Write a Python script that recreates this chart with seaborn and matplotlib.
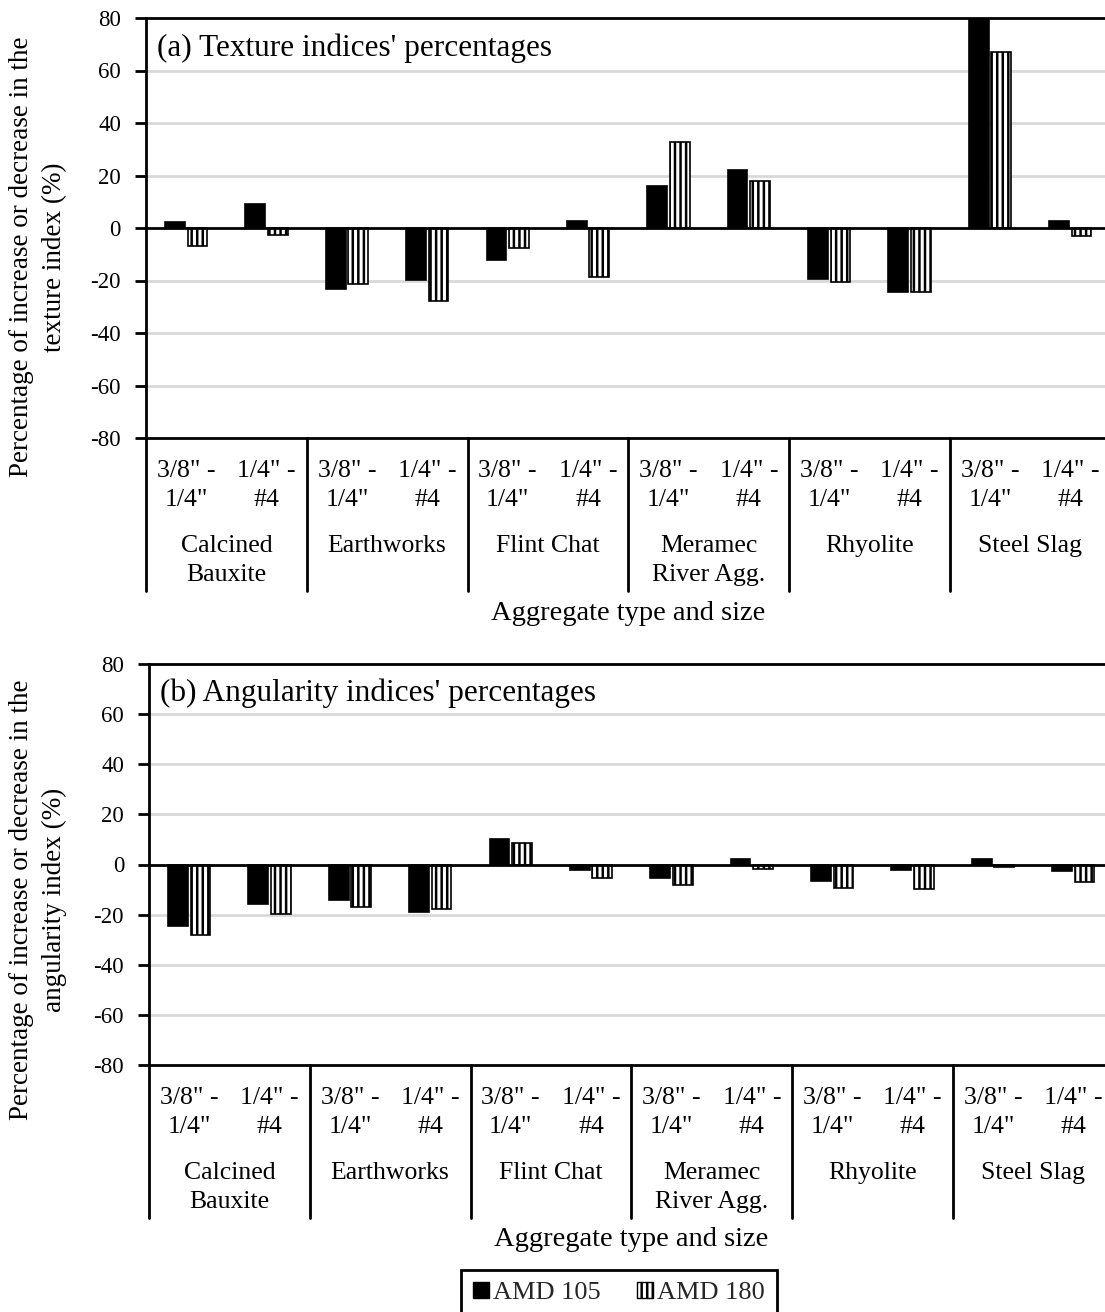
import numpy as np
import pandas as pd
import seaborn as sns
import matplotlib
matplotlib.use("Agg")
import matplotlib.pyplot as plt
import matplotlib.transforms as mtransforms
from matplotlib.patches import Patch

# ---- data -------------------------------------------------------------
aggregates = ["Calcined\nBauxite", "Earthworks", "Flint Chat",
              "Meramec\nRiver Agg.", "Rhyolite", "Steel Slag"]
sizes = ['3/8" -\n1/4"', '1/4" -\n#4']
series = ["AMD 105", "AMD 180"]

texture_amd105 = [2.3, 9.1, -23.1, -19.9, -12.0, 2.8, 16.1, 22.2, -19.6, -24.2, 80.0, 2.8]
texture_amd180 = [-6.7, -2.5, -21.2, -27.9, -7.7, -18.8, 32.8, 18.0, -20.5, -24.2, 67.0, -3.2]
angularity_amd105 = [-24.5, -15.9, -14.2, -19.1, 10.3, -2.1, -5.4, 2.0, -6.4, -2.1, 2.0, -2.6]
angularity_amd180 = [-28.2, -19.6, -17.0, -17.9, 8.7, -5.3, -8.0, -1.7, -9.2, -9.7, -1.0, -7.0]

y_ticks = [-80, -60, -40, -20, 0, 20, 40, 60, 80]

# ---- style ------------------------------------------------------------
sns.set_theme(style="white")
plt.rcParams["font.family"] = ["Liberation Serif", "DejaVu Serif"]
plt.rcParams["hatch.linewidth"] = 1.8
plt.rcParams["hatch.color"] = "black"

FIG_W, FIG_H = 1105, 1312
fig = plt.figure(figsize=(FIG_W / 100, FIG_H / 100), dpi=100)

keys = [f"{a}|{s}" for a in aggregates for s in sizes]


def frame(v105, v180):
    return pd.DataFrame({
        "key": keys * 2,
        "series": [series[0]] * len(keys) + [series[1]] * len(keys),
        "value": list(v105) + list(v180),
    })


def panel(rect, v105, v180, title, ylabel, ylabel_xy):
    ax = fig.add_axes(rect)
    df = frame(v105, v180)
    sns.barplot(data=df, x="key", y="value", hue="series", order=keys,
                hue_order=series, palette={"AMD 105": "black", "AMD 180": "white"},
                width=0.56, gap=0.12, edgecolor="black", linewidth=1.2,
                legend=False, ax=ax, zorder=3)
    for bar in ax.containers[1]:
        bar.set_hatch("|||")
        bar.set_facecolor("white")
        bar.set_edgecolor("black")

    ax.set_xlim(-0.5, len(keys) - 0.5)
    ax.set_ylim(-80, 80)
    ax.set_yticks(y_ticks)
    ax.set_yticklabels([str(t) for t in y_ticks])
    ax.set_xticks([])
    ax.set_xlabel("")
    ax.set_ylabel("")
    ax.tick_params(axis="y", direction="out", length=8, width=2, labelsize=16.5,
                   pad=10, left=True, colors="black")
    for t in y_ticks:
        if t not in (-80, 0, 80):
            ax.axhline(t, color="#d9d9d9", lw=2, zorder=1)
    ax.axhline(0, color="black", lw=2, zorder=4)
    for sp in ax.spines.values():
        sp.set_visible(True)
        sp.set_color("black")
        sp.set_linewidth(2)

    # category separators below the plot area
    h_px = rect[3] * FIG_H
    sep_frac = 153 / h_px
    trans = mtransforms.blended_transform_factory(ax.transData, ax.transAxes)
    for x in np.arange(-0.5, len(keys), 2):
        ax.plot([x, x], [0, -sep_frac], transform=trans, color="black",
                lw=2, clip_on=False, zorder=5)

    # size labels and aggregate labels
    for i, k in enumerate(keys):
        agg, size = k.split("|")
        ax.text(i, -22 / h_px, size, transform=trans, ha="center", va="top",
                fontsize=18.5, linespacing=1.4, color="black")
    for g, agg in enumerate(aggregates):
        ax.text(2 * g + 0.5, -97 / h_px, agg, transform=trans, ha="center",
                va="top", fontsize=18.5, linespacing=1.4, color="black")
    ax.text(0.5, -175 / h_px, "Aggregate type and size", transform=ax.transAxes,
            ha="center", va="center", fontsize=20.5, color="black")

    ax.text(11 / (rect[2] * FIG_W), 0.928, title, transform=ax.transAxes,
            ha="left", va="center", fontsize=22.5, color="black", zorder=6)

    fig.text(ylabel_xy[0] / FIG_W, 1 - ylabel_xy[1] / FIG_H, ylabel,
             rotation=90, ha="center", va="center", multialignment="center",
             fontsize=19.5, linespacing=1.4, color="black")
    return ax


panel([146 / FIG_W, 1 - 438 / FIG_H, 964.5 / FIG_W, 420 / FIG_H],
      texture_amd105, texture_amd180,
      "(a) Texture indices' percentages",
      "Percentage of increase or decrease in the\ntexture index (%)", (38, 257))

panel([149 / FIG_W, 1 - 1065 / FIG_H, 964.5 / FIG_W, 401 / FIG_H],
      angularity_amd105, angularity_amd180,
      "(b) Angularity indices' percentages",
      "Percentage of increase or decrease in the\nangularity index (%)", (38, 900))

handles = [Patch(facecolor="black", edgecolor="black", label=series[0]),
           Patch(facecolor="white", edgecolor="black", hatch="|||", label=series[1])]
leg = fig.legend(handles=handles, loc="center", ncol=2,
                 bbox_to_anchor=(619 / FIG_W, 1 - 1293 / FIG_H),
                 frameon=True, fancybox=False, fontsize=19,
                 handlelength=0.6, handleheight=0.6, handletextpad=0.15,
                 columnspacing=1.4, borderpad=0.45)
leg.get_frame().set_edgecolor("black")
leg.get_frame().set_linewidth(2)
leg.get_frame().set_alpha(1)

fig.savefig("out.png", dpi=100)
